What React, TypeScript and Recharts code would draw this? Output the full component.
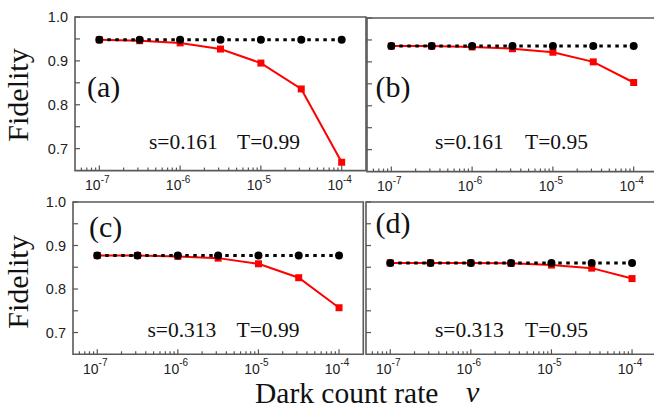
import React from 'react';
import { LineChart, Line, XAxis, YAxis, ReferenceArea } from 'recharts';

// ---- data ----
const darkCountRates = [1e-7, 3.16e-7, 1e-6, 3.16e-6, 1e-5, 3.16e-5, 1e-4];

const idealA = [0.948, 0.948, 0.948, 0.948, 0.948, 0.948, 0.948];
const realA = [0.948, 0.946, 0.941, 0.927, 0.895, 0.836, 0.669];

const idealB = [0.936, 0.936, 0.936, 0.936, 0.936, 0.936, 0.936];
const realB = [0.936, 0.936, 0.934, 0.930, 0.922, 0.900, 0.853];

const idealC = [0.877, 0.877, 0.877, 0.877, 0.877, 0.877, 0.877];
const realC = [0.877, 0.877, 0.875, 0.871, 0.858, 0.826, 0.757];

const idealD = [0.860, 0.860, 0.860, 0.860, 0.860, 0.860, 0.860];
const realD = [0.860, 0.860, 0.860, 0.859, 0.855, 0.848, 0.824];

const majorXTicks = [1e-7, 1e-6, 1e-5, 1e-4];
const majorXLabels = ['-7', '-6', '-5', '-4'];
const minorXTicks = [
  6e-8, 7e-8, 8e-8, 9e-8,
  2e-7, 3e-7, 4e-7, 5e-7, 6e-7, 7e-7, 8e-7, 9e-7,
  2e-6, 3e-6, 4e-6, 5e-6, 6e-6, 7e-6, 8e-6, 9e-6,
  2e-5, 3e-5, 4e-5, 5e-5, 6e-5, 7e-5, 8e-5, 9e-5,
];
const majorYTicks = [0.7, 0.8, 0.9, 1.0];
const majorYLabels = ['0.7', '0.8', '0.9', '1.0'];
const minorYTicks = [0.75, 0.85, 0.95];

const panelLabels = ['(a)', '(b)', '(c)', '(d)'];
const sLabels = ['s=0.161', 's=0.161', 's=0.313', 's=0.313'];
const tLabels = ['T=0.99', 'T=0.95', 'T=0.99', 'T=0.95'];

const X_DOMAIN: [number, number] = [5e-8, 2e-4];
const Y_DOMAIN: [number, number] = [0.65, 1.0];

const SANS = 'Liberation Sans, Arial, sans-serif';
const SERIF = 'Liberation Serif, Times New Roman, serif';

const buildData = (ideal: number[], real: number[]) =>
  darkCountRates.map((x, i) => ({ x, ideal: ideal[i], real: real[i] }));

const allXTicks = [...majorXTicks, ...minorXTicks].sort((a, b) => a - b);
const allYTicks = [...majorYTicks, ...minorYTicks].sort((a, b) => a - b);

const XTick = (props: any) => {
  const { x, y, payload } = props;
  const v = payload.value;
  const idx = majorXTicks.findIndex((m) => Math.abs(m - v) / m < 1e-6);
  const major = idx >= 0;
  return (
    <g>
      <line x1={x} y1={y} x2={x} y2={y - (major ? 5 : 3)} stroke="#555" strokeWidth={1.2} />
      {major && (
        <text x={x - 2} y={y + 19.5} textAnchor="middle" style={{ fontFamily: SANS }} fill="#222">
          <tspan fontSize={14}>10</tspan>
          <tspan fontSize={10} dy={-7.5}>{majorXLabels[idx]}</tspan>
        </text>
      )}
    </g>
  );
};

const makeYTick = (showLabels: boolean) => (props: any) => {
  const { x, y, payload } = props;
  const v = payload.value;
  const idx = majorYTicks.findIndex((m) => Math.abs(m - v) < 1e-6);
  return (
    <g>
      <line x1={x} y1={y} x2={x + 5} y2={y} stroke="#555" strokeWidth={1.2} />
      {showLabels && idx >= 0 && (
        <text x={x - 7} y={y} dy={5.2} textAnchor="end" style={{ fontFamily: SANS, fontSize: 14.5 }} fill="#222">
          {majorYLabels[idx]}
        </text>
      )}
    </g>
  );
};

const RedSquare = (props: any) => {
  const { cx, cy, index } = props;
  if (cx == null || cy == null) return <g key={index} />;
  return <rect key={index} x={cx - 3.5} y={cy - 3.5} width={7} height={7} fill="#ff0000" />;
};

const ML = 60;
const MT = 10;
const MR = 10;
const MB = 30;

interface PanelProps {
  left: number;
  top: number;
  w: number;
  h: number;
  ideal: number[];
  real: number[];
  showYLabels: boolean;
}

const Panel = ({ left, top, w, h, ideal, real, showYLabels }: PanelProps) => {
  const data = buildData(ideal, real);
  return (
    <div style={{ position: 'absolute', left: left - ML, top: top - MT }}>
      <LineChart
        width={ML + w + MR}
        height={MT + h + MB}
        data={data}
        margin={{ top: MT, right: MR, bottom: 0, left: 0 }}
      >
        <XAxis
          dataKey="x"
          type="number"
          scale="log"
          domain={X_DOMAIN}
          allowDataOverflow
          ticks={allXTicks}
          interval={0}
          tickLine={false}
          axisLine={false}
          tickSize={0}
          tickMargin={0}
          height={MB}
          tick={XTick}
        />
        <YAxis
          type="number"
          domain={Y_DOMAIN}
          allowDataOverflow
          ticks={allYTicks}
          interval={0}
          tickLine={false}
          axisLine={false}
          tickSize={0}
          tickMargin={0}
          width={ML}
          tick={makeYTick(showYLabels)}
        />
        <ReferenceArea
          x1={X_DOMAIN[0]}
          x2={X_DOMAIN[1]}
          y1={Y_DOMAIN[0]}
          y2={Y_DOMAIN[1]}
          fill="none"
          stroke="#5a5a5a"
          strokeWidth={1.6}
          ifOverflow="visible"
        />
        <Line
          dataKey="real"
          type="linear"
          stroke="#ff0000"
          strokeWidth={2}
          dot={RedSquare}
          activeDot={false}
          isAnimationActive={false}
        />
        <Line
          dataKey="ideal"
          type="linear"
          stroke="#000"
          strokeWidth={3}
          strokeDasharray="3.5 4.5"
          dot={{ r: 4, fill: '#000', stroke: 'none' }}
          activeDot={false}
          isAnimationActive={false}
        />
      </LineChart>
    </div>
  );
};

const panelPos = [
  { left: 75, top: 17.3, w: 291, h: 153.6 },
  { left: 366.7, top: 17.5, w: 291, h: 153.6 },
  { left: 73, top: 201.7, w: 290.3, h: 152.3 },
  { left: 365.7, top: 201.7, w: 290.3, h: 152.3 },
];

const textPos = [
  { px: 87, py: 97, sx: 149, tx: 237, ty: 148.5 },
  { px: 375.5, py: 97, sx: 435, tx: 525, ty: 148.5 },
  { px: 89, py: 236.5, sx: 147.5, tx: 236.5, ty: 336.5 },
  { px: 375.5, py: 232.5, sx: 435, tx: 525, ty: 336.5 },
];

const serifStyle = (size: number, italic = false): React.CSSProperties => ({
  fontFamily: SERIF,
  fontSize: size,
  fontStyle: italic ? 'italic' : 'normal',
});

export default function App() {
  const ideals = [idealA, idealB, idealC, idealD];
  const reals = [realA, realB, realC, realD];
  return (
    <div
      style={{
        position: 'absolute',
        left: 0,
        top: 0,
        width: 654,
        height: 409,
        overflow: 'hidden',
        background: '#fff',
      }}
    >
      {panelPos.map((p, i) => (
        <Panel
          key={i}
          left={p.left}
          top={p.top}
          w={p.w}
          h={p.h}
          ideal={ideals[i]}
          real={reals[i]}
          showYLabels={i % 2 === 0}
        />
      ))}
      <svg
        width={654}
        height={409}
        style={{ position: 'absolute', left: 0, top: 0, pointerEvents: 'none' }}
      >
        {textPos.map((t, i) => (
          <g key={i} fill="#111">
            <text x={t.px} y={t.py} style={serifStyle(30)}>{panelLabels[i]}</text>
            <text x={t.sx} y={t.ty} style={serifStyle(21.5)}>{sLabels[i]}</text>
            <text x={t.tx} y={t.ty} style={serifStyle(21.5)}>{tLabels[i]}</text>
          </g>
        ))}
        <text transform="translate(28,95) rotate(-90)" textAnchor="middle" style={serifStyle(30)} fill="#111">
          Fidelity
        </text>
        <text transform="translate(28,282) rotate(-90)" textAnchor="middle" style={serifStyle(30)} fill="#111">
          Fidelity
        </text>
        <text x={255} y={403} style={serifStyle(29.5)} fill="#111">
          Dark count rate
        </text>
        <text x={466} y={402} style={serifStyle(30, true)} fill="#111">
          ν
        </text>
      </svg>
    </div>
  );
}
